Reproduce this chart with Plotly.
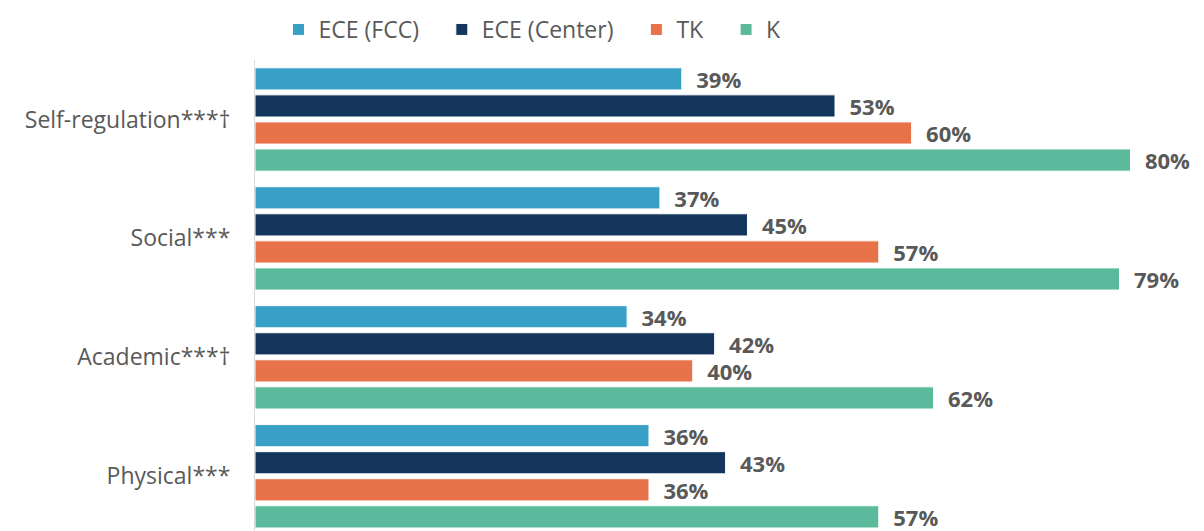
import plotly.graph_objects as go

categories = ["Self-regulation***†", "Social***", "Academic***†", "Physical***"]
series_names = ["ECE (FCC)", "ECE (Center)", "TK", "K"]
fcc = [39, 37, 34, 36]
center = [53, 45, 42, 43]
tk = [60, 57, 40, 36]
k = [80, 79, 62, 57]
colors = ["#38a0c7", "#15365c", "#e8734a", "#5bba9c"]

fig = go.Figure()
for i, (name, vals, col) in enumerate(zip(series_names, [fcc, center, tk, k], colors)):
    # a little extra room after each legend entry
    pad = "\u00a0\u00a0\u00a0" if i < len(series_names) - 1 else ""
    fig.add_trace(go.Bar(
        y=categories, x=vals, name=name + pad, orientation="h",
        marker=dict(color=col, line=dict(color="white", width=1)),
        text=vals, texttemplate="\u00a0\u00a0%{x}%", textposition="outside",
        constraintext="none",
        textfont=dict(family="Open Sans", size=22, color="#595959", weight="bold"),
        cliponaxis=False,
    ))

# page body has an 8px margin, so the figure is 8px smaller and shifted
fig.update_layout(
    width=1196, height=523,
    barmode="group", bargap=0.09, bargroupgap=0.18,
    plot_bgcolor="white", paper_bgcolor="white",
    margin=dict(l=247, r=10, t=52, b=0, autoexpand=False),
    font=dict(family="Open Sans", color="#595959"),
    showlegend=True,
    legend=dict(orientation="h", x=0.025, xanchor="left", yref="container",
                y=1.0, yanchor="top",
                font=dict(size=23, color="#595959"), traceorder="normal"),
    xaxis=dict(range=[0, 85.8], visible=False, showgrid=False, automargin=False),
    yaxis=dict(range=[3.46, -0.5], showgrid=False, showline=True, linecolor="#d9d9d9",
               linewidth=1, tickfont=dict(size=23, color="#595959"),
               ticks="", ticklabelstandoff=19, automargin=False),
)

fig.write_html("out.html")
